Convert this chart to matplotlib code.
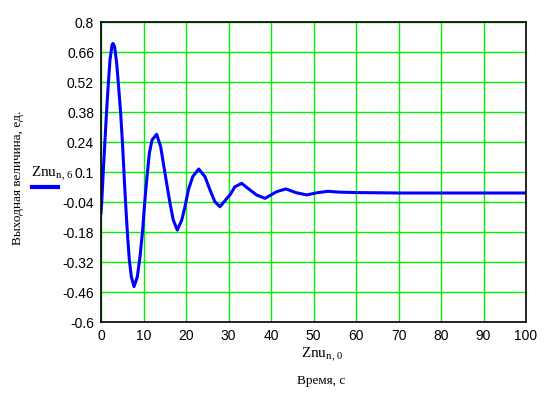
import matplotlib
matplotlib.use("Agg")
import matplotlib.pyplot as plt
import numpy as np

# values (time, s / output, units)
t = np.array([0, 0.16, 0.55, 0.94, 1.33, 1.73, 2.12, 2.6, 2.82, 3.2, 3.69, 4.08, 4.63,
              5.1, 5.49, 5.88, 6.27, 6.67, 7.14, 7.76, 8.55, 9.18, 9.8, 10.27, 10.75,
              11.37, 12.0, 13.1, 14.04, 14.67, 15.45, 16.24, 17.0, 17.96, 19.0, 19.76,
              20.55, 21.57, 23.0, 24.47, 25.65, 26.8, 28.0, 29.96, 30.35, 31.5, 33.1,
              35.06, 36.6, 38.6, 41.3, 43.5, 46.0, 48.4, 50.8, 53.4, 56.0, 60.0, 65.0,
              70.0, 80.0, 90.0, 100.0])
znu = np.array([-0.09, -0.046, 0.109, 0.249, 0.389, 0.514, 0.623, 0.693, 0.70, 0.685,
                0.607, 0.514, 0.374, 0.218, 0.063, -0.077, -0.202, -0.311, -0.389,
                -0.435, -0.389, -0.295, -0.171, -0.046, 0.063, 0.187, 0.249, 0.276,
                0.218, 0.141, 0.047, -0.046, -0.124, -0.171, -0.124, -0.062, 0.016,
                0.078, 0.114, 0.078, 0.016, -0.039, -0.062, -0.015, -0.007, 0.031,
                0.047, 0.016, -0.007, -0.023, 0.008, 0.021, 0.003, -0.007, 0.003,
                0.010, 0.006, 0.004, 0.003, 0.002, 0.002, 0.002, 0.002])

yticks = [0.8, 0.66, 0.52, 0.38, 0.24, 0.1, -0.04, -0.18, -0.32, -0.46, -0.6]
xticks = [0, 10, 20, 30, 40, 50, 60, 70, 80, 90, 100]

plt.rcParams['mathtext.fontset'] = 'custom'
plt.rcParams['mathtext.rm'] = 'Liberation Serif'
plt.rcParams['mathtext.it'] = 'Liberation Serif'

fig = plt.figure(figsize=(5.53, 3.96), dpi=100)
ax = fig.add_axes([101 / 553, 1 - 322 / 396, 425 / 553, 300 / 396])
ax.plot(t, znu, color='#0000ff', lw=2.2)
ax.set_xlim(0, 100)
ax.set_ylim(-0.6, 0.8)
ax.set_xticks(xticks)
ax.set_yticks(yticks)
ax.set_xticklabels([str(v) for v in xticks])
ax.set_yticklabels([f"{v:g}" for v in yticks])
ax.grid(True, color='#00f000', lw=1)
ax.set_axisbelow(True)
ax.tick_params(length=0, pad=5, labelsize=10)
for lab in ax.get_xticklabels() + ax.get_yticklabels():
    lab.set_family(['Liberation Sans Narrow', 'Liberation Sans', 'DejaVu Sans'])
for s in ax.spines.values():
    s.set_color('black')
    s.set_linewidth(1.2)

fig.text(322 / 553, 1 - 355 / 396, r'$\mathrm{Znu}_{\mathrm{n,\,0}}$', ha='center', va='center',
         fontsize=11)
fig.text(321 / 553, 1 - 381 / 396, 'Время, с', ha='center', va='center',
         family='Liberation Serif', fontsize=9.5)
fig.text(18 / 553, 1 - 178 / 396, 'Выходная величина, ед.', rotation=90, ha='center',
         va='center', family='Liberation Serif', fontsize=9.5)
fig.text(52 / 553, 1 - 174 / 396, r'$\mathrm{Znu}_{\mathrm{n,\,6}}$', ha='center', va='center',
         fontsize=11)
fig.add_artist(plt.Line2D([32 / 553, 58 / 553], [1 - 187 / 396, 1 - 187 / 396],
                          color='#0000ff', lw=3))

fig.savefig('out.png', dpi=100)
